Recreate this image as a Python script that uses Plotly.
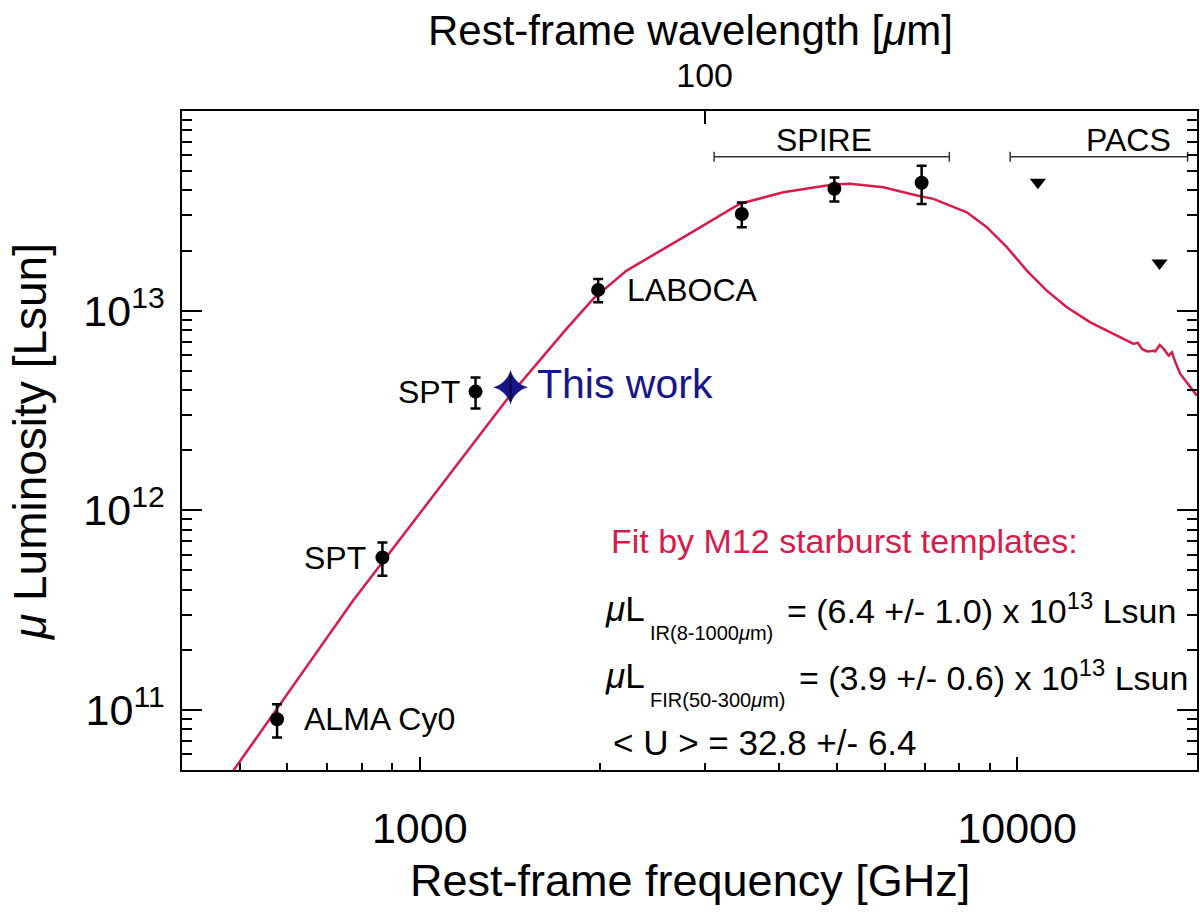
import numpy as np
import plotly.graph_objects as go

# ---------------- data ----------------
C_UM_GHZ = 299792.458  # wavelength[um] * frequency[GHz]

# photometric detections: rest-frame frequency [GHz], mu*L [Lsun], 1-sigma error
det_freq = [577, 866, 1240, 1989, 3460, 4944, 6920]
det_lum = [8.98e10, 5.8e11, 3.93e12, 1.27e13, 3.05e13, 4.08e13, 4.37e13]
det_err = [1.7e10, 1.1e11, 0.7e12, 0.17e13, 0.43e13, 0.56e13, 0.95e13]
det_label = ["ALMA Cy0", "SPT", "SPT", "LABOCA", "", "", ""]

# this work
tw_freq = [1419]
tw_lum = [4.13e12]
tw_err = [0.6e12]

# PACS upper limits
ul_freq = [10832, 17313]
ul_lum = [4.4e13, 1.73e13]

# instrument bands [GHz] and bracket level
spire_band = [3110, 7700]
pacs_band = [9734, 19290]
band_level = 5.9e13

# best-fit M12 starburst template
curve_freq = [460, 487, 773, 1000, 1276, 1419, 1750, 1951, 2220, 2761, 3436, 4060,
              4924, 5253, 5970, 6792, 7242, 8236, 8897, 9609, 10380, 11210, 12110,
              13260, 14500, 15660, 15910, 16180, 16500, 16920, 17030, 17320, 17590,
              17930, 18160, 18400, 18750, 19240, 20000]
curve_lum = [3.9e10, 4.94e10, 3.52e11, 9.57e11, 2.50e12, 3.79e12, 7.94e12, 1.145e13,
             1.587e13, 2.33e13, 3.43e13, 3.92e13, 4.28e13, 4.32e13, 4.15e13, 3.77e13,
             3.63e13, 3.11e13, 2.62e13, 2.08e13, 1.587e13, 1.26e13, 1.039e13, 8.74e12,
             7.64e12, 6.81e12, 6.91e12, 6.43e12, 6.25e12, 6.30e12, 6.25e12, 6.73e12,
             6.43e12, 5.95e12, 6.18e12, 5.51e12, 4.82e12, 4.37e12, 3.75e12]

x_range = [400, 20000]
y_range = [5e10, 1e14]
x_ticks = [1000, 10000]
x_minor = [500, 600, 700, 800, 900, 2000, 3000, 4000, 5000, 6000, 7000, 8000, 9000]
y_ticks = [1e11, 1e12, 1e13]
y_minor = [m * 10 ** e for e in (10, 11, 12, 13) for m in range(2, 10) if 5e10 <= m * 10 ** e <= 1e14]
top_ticks = [100]

# ---------------- figure ----------------
FONT = "Liberation Sans, Arial, Helvetica, sans-serif"
RED = "#D81B4A"
NAVY = "#16168A"

W, H = 1200, 924
ML, MR, MT, MB = 182, 3, 111, 154
PW, PH = W - ML - MR, H - MT - MB


def pxx(px):
    return (px - ML) / PW


def pxy(py):
    return (H - MB - py) / PH


fig = go.Figure()

fig.add_trace(go.Scatter(x=curve_freq, y=curve_lum, mode="lines",
                         line=dict(color=RED, width=2.5), hoverinfo="skip", showlegend=False))

for band in (spire_band, pacs_band):
    fig.add_trace(go.Scatter(x=band, y=[band_level, band_level], mode="lines+markers",
                             line=dict(color="#333333", width=1.5),
                             marker=dict(symbol="line-ns", size=7,
                                         line=dict(color="#333333", width=1.5)),
                             hoverinfo="skip", showlegend=False))

fig.add_trace(go.Scatter(x=det_freq, y=det_lum, mode="markers",
                         marker=dict(color="black", size=14),
                         error_y=dict(type="data", array=det_err, color="black",
                                      thickness=2.5, width=5),
                         showlegend=False))

fig.add_trace(go.Scatter(x=tw_freq, y=tw_lum, mode="markers",
                         marker=dict(color=NAVY, size=25, symbol="star-diamond"),
                         showlegend=False))
fig.add_trace(go.Scatter(x=tw_freq, y=tw_lum, mode="markers",
                         marker=dict(color="rgba(0,0,0,0)", size=1),
                         error_y=dict(type="data", array=tw_err, color="black",
                                      thickness=1.5, width=0),
                         showlegend=False))

fig.add_trace(go.Scatter(x=ul_freq, y=ul_lum, mode="markers",
                         marker=dict(color="black", size=14, symbol="triangle-down"),
                         showlegend=False))

# invisible trace on the wavelength axis
fig.add_trace(go.Scatter(x=list(C_UM_GHZ / np.array(curve_freq)), y=curve_lum,
                         xaxis="x2", mode="markers",
                         marker=dict(opacity=0), hoverinfo="skip", showlegend=False))

axis_common = dict(showgrid=False, zeroline=False, showline=True, linecolor="black",
                   linewidth=1.5, ticks="inside", tickcolor="black", tickwidth=1.5,
                   automargin=False)

fig.update_layout(
    width=W, height=H,
    margin=dict(l=ML, r=MR, t=MT, b=MB, autoexpand=False),
    paper_bgcolor="white", plot_bgcolor="white",
    font=dict(family=FONT, color="black"),
    xaxis=dict(type="log", range=[np.log10(x_range[0]), np.log10(x_range[1])],
               tickvals=x_ticks, ticktext=[str(v) for v in x_ticks],
               ticklen=13, mirror=True, tickfont=dict(size=43),
               ticklabelstandoff=20,
               minor=dict(tickvals=x_minor, ticks="inside", ticklen=7,
                          tickcolor="black", tickwidth=1.5),
               **axis_common),
    xaxis2=dict(type="log", overlaying="x", side="top",
                range=[np.log10(C_UM_GHZ / x_range[0]), np.log10(C_UM_GHZ / x_range[1])],
                tickvals=top_ticks, ticktext=[str(v) for v in top_ticks],
                ticklen=13, tickfont=dict(size=34), ticklabelstandoff=16,
                showgrid=False, zeroline=False, showline=False, automargin=False,
                ticks="inside", tickcolor="black", tickwidth=1.5),
    yaxis=dict(type="log", range=[np.log10(y_range[0]), np.log10(y_range[1])],
               tickvals=y_ticks,
               ticktext=["10<sup>%d</sup>" % int(round(np.log10(v))) for v in y_ticks],
               ticklen=20, mirror="ticks", tickfont=dict(size=43),
               ticklabelstandoff=7,
               minor=dict(tickvals=y_minor, ticks="inside", ticklen=10,
                          tickcolor="black", tickwidth=1.5),
               **axis_common),
)

ann = []
# axis titles
ann.append(dict(text="Rest-frame frequency [GHz]", xref="paper", yref="paper",
                x=pxx(690), y=pxy(880), xanchor="center", yanchor="middle",
                font=dict(size=45), showarrow=False))
ann.append(dict(text="Rest-frame wavelength [<i>μ</i>m]", xref="paper", yref="paper",
                x=pxx(690), y=pxy(31), xanchor="center", yanchor="middle",
                font=dict(size=42), showarrow=False))
ann.append(dict(text="<i>μ</i> Luminosity [Lsun]", xref="paper", yref="paper",
                x=pxx(30), y=pxy(442), xanchor="center", yanchor="middle",
                textangle=-90, font=dict(size=46), showarrow=False))

# point labels
shifts = {"ALMA Cy0": (25, "left"), "LABOCA": (27, "left"), "SPT": (-14, "right")}
for f, l, lab in zip(det_freq, det_lum, det_label):
    if not lab:
        continue
    dx, anchor = shifts[lab]
    ann.append(dict(text=lab, x=np.log10(f), y=np.log10(l), xref="x", yref="y",
                    xshift=dx, xanchor=anchor, yanchor="middle",
                    font=dict(size=32), showarrow=False))
ann.append(dict(text="This work", x=np.log10(tw_freq[0]), y=np.log10(tw_lum[0]),
                xref="x", yref="y", xshift=24, yshift=3, xanchor="left", yanchor="middle",
                font=dict(size=41, color=NAVY), showarrow=False))

# band labels
ann.append(dict(text="SPIRE", x=np.log10(4742), y=np.log10(7.17e13), xref="x", yref="y",
                xanchor="center", yanchor="middle", font=dict(size=32), showarrow=False))
ann.append(dict(text="PACS", x=np.log10(15350), y=np.log10(7.17e13), xref="x", yref="y",
                xanchor="center", yanchor="middle", font=dict(size=32), showarrow=False))

# fit results block
ann.append(dict(text="Fit by M12 starburst templates:", xref="paper", yref="paper",
                x=pxx(609), y=pxy(541), xanchor="left", yanchor="middle",
                font=dict(size=34, color=RED), showarrow=False))
for yc, sub, rest, xr in ((608, "IR(8-1000<i>μ</i>m)", "= (6.4 +/- 1.0) x 10<sup>13</sup> Lsun", 785),
                          (675, "FIR(50-300<i>μ</i>m)", "= (3.9 +/- 0.6) x 10<sup>13</sup> Lsun", 797)):
    ann.append(dict(text="<i>μ</i>L", xref="paper", yref="paper", x=pxx(603), y=pxy(yc),
                    xanchor="left", yanchor="middle", font=dict(size=35), showarrow=False))
    ann.append(dict(text=sub, xref="paper", yref="paper", x=pxx(648), y=pxy(yc + 25),
                    xanchor="left", yanchor="middle", font=dict(size=20), showarrow=False))
    ann.append(dict(text=rest, xref="paper", yref="paper", x=pxx(xr), y=pxy(yc),
                    xanchor="left", yanchor="middle", font=dict(size=34), showarrow=False))
ann.append(dict(text="&lt; U &gt; = 32.8 +/- 6.4", xref="paper", yref="paper",
                x=pxx(611), y=pxy(742), xanchor="left", yanchor="middle",
                font=dict(size=35), showarrow=False))

fig.update_layout(annotations=ann)

fig.write_html("out.html", config={"displayModeBar": False},
               post_script="document.body.style.margin='0';document.body.style.overflow='hidden';")
